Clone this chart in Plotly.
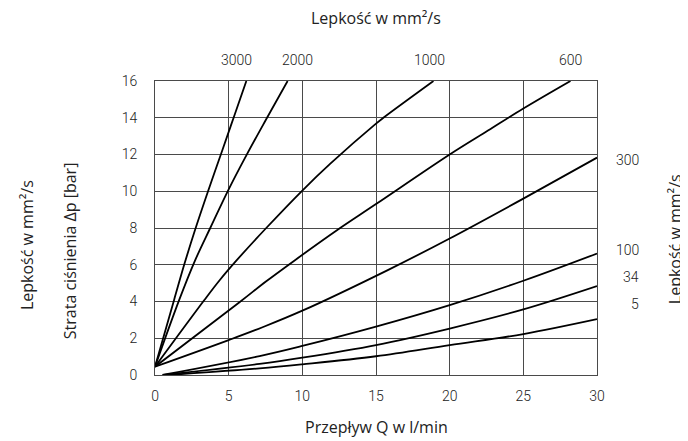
import plotly.graph_objects as go

# Flow Q [l/min] vs pressure loss Δp [bar] for several viscosities [mm²/s]
viscosities = ["3000", "2000", "1000", "600", "300", "100", "34", "5"]

q_3000 = [0, 1.3, 2.0, 2.7, 3.6, 4.6, 5.4, 6.2]
p_3000 = [0.45, 4.1, 6.05, 7.85, 10.0, 12.3, 14.15, 16.0]

q_2000 = [0, 1.65, 2.7, 3.75, 5.0, 6.2, 7.5, 9.0]
p_2000 = [0.45, 4.1, 6.2, 8.0, 10.1, 11.95, 13.85, 16.0]

q_1000 = [0, 3.35, 4.4, 5.55, 7.55, 10.0, 11.9, 15.0, 15.5, 18.9]
p_1000 = [0.45, 4.08, 5.17, 6.25, 8.0, 10.04, 11.5, 13.68, 14.0, 16.0]

q_600 = [0, 5.8, 7.55, 9.5, 12.3, 15.0, 20.0, 22.6, 25.0, 28.2]
p_600 = [0.45, 4.0, 5.1, 6.25, 7.85, 9.3, 12.0, 13.3, 14.5, 16.0]

q_300 = [0, 5.0, 7.3, 10.0, 15.8, 20.0, 25.0, 30.0]
p_300 = [0.45, 1.9, 2.6, 3.5, 5.71, 7.43, 9.6, 11.83]

q_100 = [0.5, 7.1, 10.0, 15.0, 20.0, 25.0, 30.0]
p_100 = [0, 1.03, 1.58, 2.63, 3.8, 5.13, 6.61]

q_34 = [0.6, 7.1, 10.0, 15.0, 20.0, 25.0, 30.0]
p_34 = [0, 0.6, 0.94, 1.63, 2.53, 3.57, 4.84]

q_5 = [0.9, 7.1, 10.0, 15.0, 20.0, 25.0, 30.0]
p_5 = [0, 0.36, 0.58, 1.02, 1.63, 2.23, 3.04]

series_q = [q_3000, q_2000, q_1000, q_600, q_300, q_100, q_34, q_5]
series_p = [p_3000, p_2000, p_1000, p_600, p_300, p_100, p_34, p_5]

top_labels = ["3000", "2000", "1000", "600"]
right_labels = ["300", "100", "34", "5"]

x_ticks = [0, 5, 10, 15, 20, 25, 30]
y_ticks = [0, 2, 4, 6, 8, 10, 12, 14, 16]

title_top = "Lepkość w mm²/s"
title_left_outer = "Lepkość w mm²/s"
title_left_inner = "Strata ciśnienia Δp [bar]"
title_right = "Lepkość w mm²/s"
title_bottom = "Przepływ Q w l/min"

TICK_FONT = dict(family="Roboto, Liberation Sans, sans-serif", size=14, color="#222222", weight=300)
TITLE_FONT = dict(family="Open Sans, Noto Sans, sans-serif", size=16, color="#222222")
GRID = "#4a4a4a"

fig = go.Figure()
for name, q, p in zip(viscosities, series_q, series_p):
    fig.add_trace(go.Scatter(
        x=q, y=p, mode="lines", name=name,
        line=dict(color="black", width=1.8, shape="spline", smoothing=1.0),
        showlegend=False, hoverinfo="skip",
    ))

# labels for the curves that leave through the top edge
top_shift = [-10, 10, -4, 0]
for lab, q, p, dx in zip(top_labels, series_q[:4], series_p[:4], top_shift):
    fig.add_annotation(x=q[-1], y=p[-1], xref="x", yref="y", text=lab,
                       showarrow=False, xanchor="center", yanchor="middle",
                       xshift=dx, yshift=21, font=TICK_FONT)

# labels for the curves that leave through the right edge
right_shift = [-2, 4, 9, 15]
for lab, q, p, dy in zip(right_labels, series_q[4:], series_p[4:], right_shift):
    fig.add_annotation(x=q[-1], y=p[-1], xref="x", yref="y", text=lab,
                       showarrow=False, xanchor="right", yanchor="middle",
                       xshift=44, yshift=dy, font=TICK_FONT)

fig.add_annotation(x=0.5, y=1, xref="paper", yref="paper", text=title_top,
                   showarrow=False, xanchor="center", yanchor="middle",
                   yshift=63, font=TITLE_FONT)
fig.add_annotation(x=0.5, y=0, xref="paper", yref="paper", text=title_bottom,
                   showarrow=False, xanchor="center", yanchor="middle",
                   yshift=-52, font=TITLE_FONT)
fig.add_annotation(x=0, y=0.442, xref="paper", yref="paper", text=title_left_outer,
                   showarrow=False, xanchor="center", yanchor="middle", textangle=-90,
                   xshift=-128, font=TITLE_FONT)
fig.add_annotation(x=0, y=0.421, xref="paper", yref="paper", text=title_left_inner,
                   showarrow=False, xanchor="center", yanchor="middle", textangle=-90,
                   xshift=-85, font=TITLE_FONT)
fig.add_annotation(x=1, y=0.462, xref="paper", yref="paper", text=title_right,
                   showarrow=False, xanchor="center", yanchor="middle", textangle=-90,
                   xshift=78, font=TITLE_FONT)

fig.update_xaxes(range=[0, 30], tickvals=x_ticks, showgrid=True, gridcolor=GRID, gridwidth=1,
                 showline=True, linecolor=GRID, linewidth=1, mirror=True, zeroline=False,
                 ticks="", tickfont=TICK_FONT, ticklabelstandoff=8)
fig.update_yaxes(range=[0, 16], tickvals=y_ticks, showgrid=True, gridcolor=GRID, gridwidth=1,
                 showline=True, linecolor=GRID, linewidth=1, mirror=True, zeroline=False,
                 ticks="", tickfont=TICK_FONT, ticklabelstandoff=14)

# the page body adds an 8 px margin, so the figure is sized to fit the window
fig.update_layout(
    width=680, height=433, autosize=False,
    margin=dict(l=147, r=91, t=73, b=66),
    plot_bgcolor="white", paper_bgcolor="white",
)

fig.write_html("out.html")
